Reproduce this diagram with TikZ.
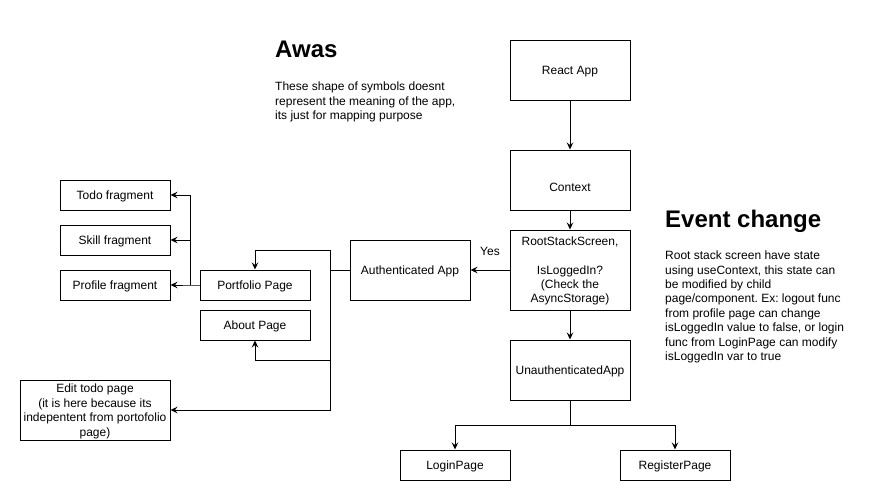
\documentclass[tikz,border=0pt]{standalone}
\usepackage{fontspec}
\setmainfont{Liberation Sans}
\usetikzlibrary{arrows.meta}
\frenchspacing
\begin{document}
\begin{tikzpicture}[x=1pt,y=-1pt,
  box/.style={draw, line width=1pt, inner sep=0pt, align=center, font=\fontsize{12}{14.4}\selectfont},
  one/.style={text height=10.8pt, text depth=2.5pt},
  conn/.style={line width=1pt, -{Stealth[length=7pt,width=6.5pt,inset=2.5pt]}},
  plain/.style={line width=1pt},
  txt/.style={inner sep=0pt, font=\fontsize{12}{14.4}\selectfont, align=left, anchor=west},
  ttl/.style={inner sep=0pt, font=\fontsize{24}{28}\selectfont\bfseries, anchor=base west}]
\useasboundingbox[fill=white] (0,0) rectangle (871,501);

% titles and notes
\node[ttl] (awas) at (275,57) {Awas};
\node[txt] (awasnote) at (275,102) {These shape of symbols doesnt\\represent the meaning of the app,\\its just for mapping purpose};
\node[ttl] (event) at (665,227) {Event change};
\node[txt] (eventnote) at (665,307) {Root stack screen have state\\using useContext, this state can\\be modified by child\\page/component. Ex: logout func\\from profile page can change\\isLoggedIn value to false, or login\\func from LoginPage can modify\\isLoggedIn var to true};

% right column
\node[box, one, minimum width=120pt, minimum height=60pt] (react) at (570,70) {React App};
\node[box, minimum width=120pt, minimum height=60pt] (ctx) at (570,180) {};
\node[inner sep=0pt, one, font=\fontsize{12}{14.4}\selectfont] (ctxlabel) at (570,187) {Context};
\node[box, minimum width=120pt, minimum height=80pt] (root) at (570,270) {\rule{0pt}{10.8pt}RootStackScreen,\\[14.4pt]IsLoggedIn?\\(Check the\\AsyncStorage)};
\node[box, one, minimum width=120pt, minimum height=60pt] (unauth) at (570,370) {UnauthenticatedApp};
\node[box, one, minimum width=110pt, minimum height=30pt] (login) at (455,465) {LoginPage};
\node[box, one, minimum width=110pt, minimum height=30pt] (register) at (675,465) {RegisterPage};

% authenticated side
\node[box, one, minimum width=120pt, minimum height=60pt] (auth) at (410,270) {Authenticated App};
\node[inner sep=0pt, one, font=\fontsize{12}{14.4}\selectfont] (yes) at (490,251) {Yes};
\node[box, one, minimum width=110pt, minimum height=30pt] (portfolio) at (255,285) {Portfolio Page};
\node[box, one, minimum width=110pt, minimum height=30pt] (about) at (255,325) {About Page};
\node[box, minimum width=150pt, minimum height=60pt] (edit) at (95,410) {\rule{0pt}{11.6pt}Edit todo page\\(it is here because its\\indepentent from portofolio\\page)};
\node[box, one, minimum width=110pt, minimum height=30pt] (todo) at (115,195) {Todo fragment};
\node[box, one, minimum width=110pt, minimum height=30pt] (skill) at (115,240) {Skill fragment};
\node[box, one, minimum width=110pt, minimum height=30pt] (profile) at (115,285) {Profile fragment};

% connectors
\draw[conn] (react) -- (ctx);
\draw[conn] (ctx) -- (root);
\draw[conn] (root) -- (unauth);
\draw[conn] (root) -- (auth);

\coordinate (usplit) at (570,425);
\draw[conn] (unauth) -- (usplit) -| (login);
\draw[conn] (usplit) -| (register);

\coordinate (abus) at (330,270);
\coordinate (atop) at (330,250);
\coordinate (amid) at (330,360);
\coordinate (abot) at (330,410);
\draw[plain] (auth) -- (abus);
\draw[conn] (abus) -- (atop) -| (portfolio);
\draw[conn] (abus) -- (abot) -- (edit);
\draw[conn] (amid) -| (about);

\coordinate (pbus) at (190,285);
\draw[conn] (portfolio) -- (pbus) -- (profile);
\draw[conn] (pbus) |- (skill);
\draw[conn] (pbus) |- (todo);
\end{tikzpicture}
\end{document}
